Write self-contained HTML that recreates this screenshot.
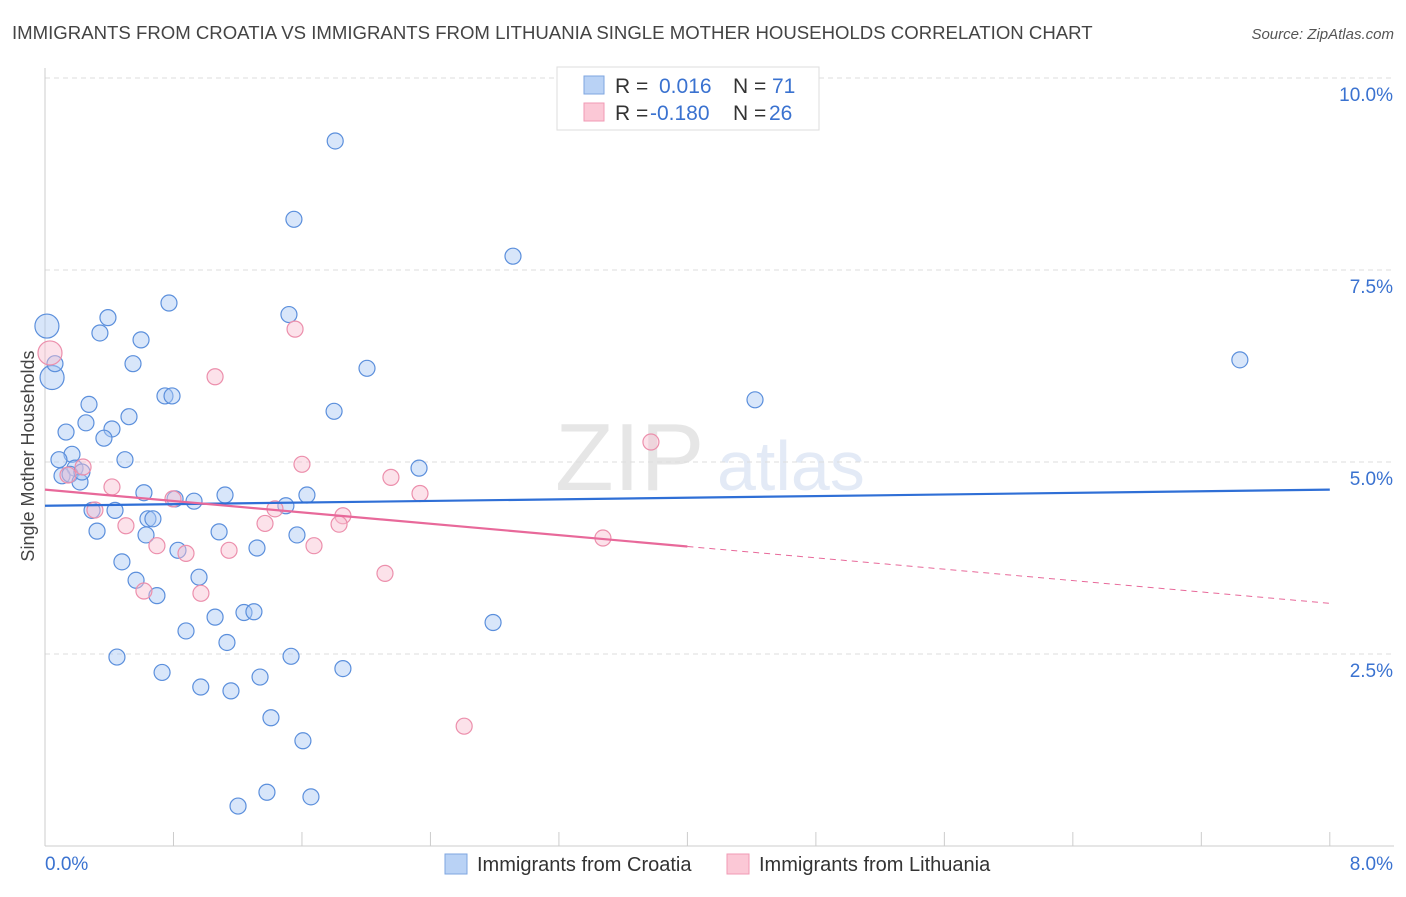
<!DOCTYPE html>
<html><head><meta charset="utf-8"><style>
body{margin:0;background:#fff;font-family:"Liberation Sans",sans-serif;}
svg text{font-family:"Liberation Sans",sans-serif;}
</style></head><body>
<svg id="chart" width="1406" height="892" xmlns="http://www.w3.org/2000/svg">
<text x="12" y="39" font-size="18.6" fill="#444">IMMIGRANTS FROM CROATIA VS IMMIGRANTS FROM LITHUANIA SINGLE MOTHER HOUSEHOLDS CORRELATION CHART</text>
<text x="1394" y="39" font-size="15" fill="#555" text-anchor="end" font-style="italic">Source: ZipAtlas.com</text>
<text transform="translate(34,456) rotate(-90)" font-size="18" fill="#444" text-anchor="middle">Single Mother Households</text>
<g opacity="0.18"><text x="555" y="490" font-size="96" font-family="Liberation Serif" fill="#777">ZIP</text><text x="717" y="490" font-size="70" fill="#6a8fd0">atlas</text></g>
<g id="grid"></g><g id="axes"></g><g id="pts"></g><g id="lines"></g>
<g>
<rect x="557" y="67" width="262" height="63" fill="#fff" stroke="#ddd"/>
<rect x="584" y="76" width="20" height="18" fill="#b9d2f5" stroke="#7ea6e0"/>
<rect x="584" y="103" width="20" height="18" fill="#fbc8d6" stroke="#f09ab4"/>
<text x="615" y="93" font-size="21" fill="#333">R =</text><text x="659" y="93" font-size="21" fill="#3a72d0">0.016</text>
<text x="733" y="93" font-size="21" fill="#333">N =</text><text x="772" y="93" font-size="21" fill="#3a72d0">71</text>
<text x="615" y="120" font-size="21" fill="#333">R =</text><text x="650" y="120" font-size="21" fill="#3a72d0">-0.180</text>
<text x="733" y="120" font-size="21" fill="#333">N =</text><text x="769" y="120" font-size="21" fill="#3a72d0">26</text>
</g>
<g>
<rect x="445" y="854" width="22" height="20" fill="#b9d2f5" stroke="#7ea6e0"/>
<text x="477" y="871" font-size="20" fill="#333">Immigrants from Croatia</text>
<rect x="727" y="854" width="22" height="20" fill="#fbc8d6" stroke="#f09ab4"/>
<text x="759" y="871" font-size="20" fill="#333">Immigrants from Lithuania</text>
</g>
</svg>
<script>
const blueX=[1.807,1.55,2.914,7.44,4.421,0.012,0.044,0.062,0.392,0.342,0.772,0.598,0.548,1.519,2.005,0.747,0.791,0.274,0.523,1.8,0.131,0.255,0.417,0.367,0.168,0.087,0.498,0.187,2.329,0.106,0.156,0.218,0.23,0.616,0.81,0.928,1.121,1.631,1.5,0.293,0.436,0.641,0.672,0.324,0.629,1.084,1.569,0.828,1.32,0.479,0.567,0.959,0.697,1.239,1.301,1.059,2.79,0.878,1.133,0.448,1.532,1.855,0.729,1.339,0.97,1.158,1.407,1.606,1.202,1.382,1.656];
const blueY=[9.18,8.16,7.68,6.33,5.81,6.77,6.1,6.28,6.88,6.68,7.07,6.59,6.28,6.92,6.22,5.86,5.86,5.75,5.59,5.66,5.39,5.51,5.43,5.31,5.1,5.03,5.03,4.92,4.92,4.82,4.84,4.74,4.87,4.6,4.52,4.49,4.57,4.57,4.43,4.37,4.37,4.26,4.26,4.1,4.05,4.09,4.05,3.85,3.88,3.7,3.46,3.5,3.26,3.04,3.05,2.98,2.91,2.8,2.65,2.46,2.47,2.31,2.26,2.2,2.07,2.02,1.67,1.37,0.52,0.7,0.64];
const pinkX=[0.031,1.557,1.059,3.773,1.6,2.154,2.335,0.237,0.143,0.417,0.797,0.311,1.855,1.432,1.37,1.831,0.504,3.474,0.697,0.878,1.146,1.675,2.117,0.616,0.971,2.61];
const pinkY=[6.42,6.73,6.11,5.26,4.97,4.8,4.59,4.935,4.83,4.675,4.52,4.375,4.3,4.39,4.2,4.19,4.17,4.01,3.91,3.81,3.85,3.91,3.55,3.32,3.29,1.56];
const yTicks=[2.5,5.0,7.5,10.0];
const xTickLabels=["0.0%","8.0%"];
const blueLine=[4.43,4.64], pinkLine=[4.64,3.16];
const NS="http://www.w3.org/2000/svg";
const X=v=>45+v*160.6, Y=v=>846-v*76.8;
function mk(t,a,p){const e=document.createElementNS(NS,t);for(const k in a)e.setAttribute(k,a[k]);p.appendChild(e);return e;}
const grid=document.getElementById('grid'),axes=document.getElementById('axes'),pts=document.getElementById('pts'),lines=document.getElementById('lines');
yTicks.forEach(v=>{const l=mk('line',{x1:45,x2:1394,y1:Y(v),y2:Y(v),stroke:'#ddd','stroke-dasharray':'5,4'},grid);


const t=mk('text',{x:1393,y:Y(v)+23,'font-size':19,fill:'#3a72d0','text-anchor':'end'},axes);t.textContent=v.toFixed(1)+'%';

});
mk('line',{x1:45,x2:45,y1:68,y2:846,stroke:'#ccc'},axes);
mk('line',{x1:45,x2:1394,y1:846,y2:846,stroke:'#ccc'},axes);
for(let i=0;i<=10;i++){const t=mk('line',{x1:X(i*0.8),x2:X(i*0.8),y1:832,y2:846,stroke:'#ccc'},axes);

}
let t0=mk('text',{x:45,y:870,'font-size':19,fill:'#3a72d0'},axes);t0.textContent=xTickLabels[0];


let t1=mk('text',{x:1393,y:870,'font-size':19,fill:'#3a72d0','text-anchor':'end'},axes);t1.textContent=xTickLabels[1];


function dots(xs,ys,fill,stroke,name){xs.forEach((x,i)=>{const r=(x<0.05&&ys[i]>6)?12:8;const c=mk('circle',{cx:X(x),cy:Y(ys[i]),r:r,fill:fill,'fill-opacity':0.45,stroke:stroke,'stroke-width':1.2},pts);

});}
dots(blueX,blueY,'#a9c8f3','#5b8fdc','croatia-point');
dots(pinkX,pinkY,'#f8bfd0','#ec8fac','lithuania-point');
let bl=mk('line',{x1:X(0),y1:Y(blueLine[0]),x2:X(8),y2:Y(blueLine[1]),stroke:'#2f6fd6','stroke-width':2.2},lines);


const py=x=>pinkLine[0]+(pinkLine[1]-pinkLine[0])*x/8;
let pl=mk('line',{x1:X(0),y1:Y(py(0)),x2:X(4),y2:Y(py(4)),stroke:'#e8699a','stroke-width':2.2},lines);


let pd=mk('line',{x1:X(4),y1:Y(py(4)),x2:X(8),y2:Y(py(8)),stroke:'#e8699a','stroke-width':1,'stroke-dasharray':'6,5'},lines);


</script>
</body></html>
